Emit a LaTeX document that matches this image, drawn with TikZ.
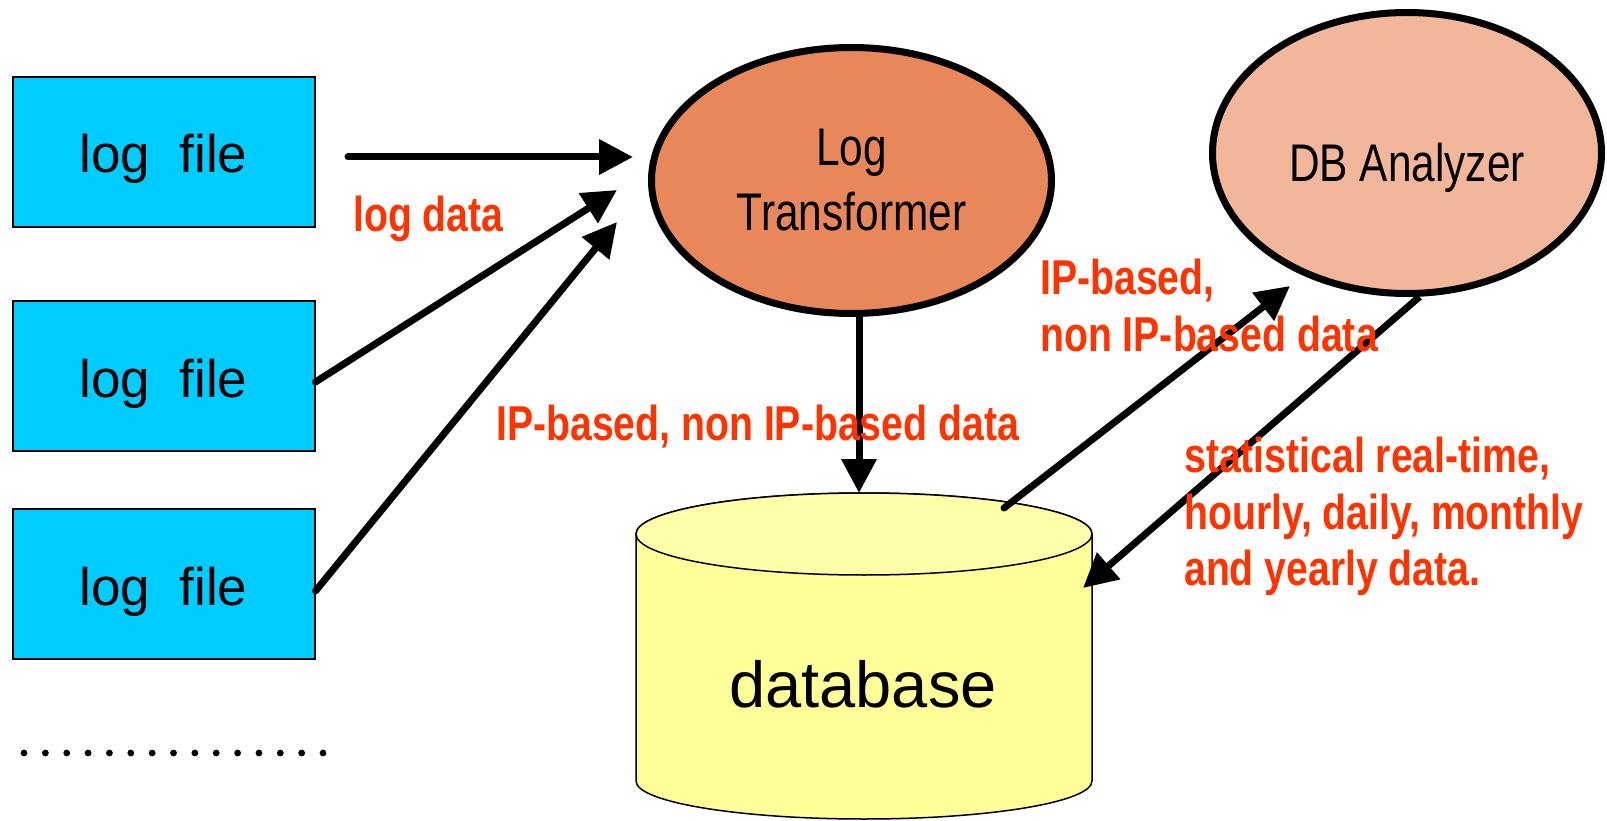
\documentclass[tikz,border=0pt]{standalone}
\usepackage{fontspec}
\setmainfont{Liberation Sans}
\newfontfamily\narrowfont{Liberation Sans}[FakeStretch=0.8]
\usetikzlibrary{arrows.meta,shapes.geometric,calc}

\definecolor{fileblue}{HTML}{00CCFF}
\definecolor{transfill}{HTML}{E8885A}
\definecolor{analyzefill}{HTML}{F2B69B}
\definecolor{dbbody}{HTML}{FFFF99}
\definecolor{dbtopface}{HTML}{FFFFAA}
\definecolor{notered}{HTML}{FF3300}

\tikzset{
  logbox/.style={draw, fill=fileblue, line width=2pt, minimum width=302pt,
    minimum height=150pt, inner sep=0pt, text height=42pt, text depth=0pt,
    font=\fontsize{53}{60}\selectfont},
  process/.style={ellipse, draw, line width=7pt, inner sep=0pt, align=center,
    font=\narrowfont\fontsize{53}{65}\selectfont},
  note/.style={text=notered, inner sep=0pt, align=left,
    font=\narrowfont\bfseries\fontsize{49}{56.5}\selectfont},
  flow/.style={line width=7pt, -{Triangle[length=34pt,width=34pt]}},
  flowround/.style={flow, line cap=round},
}

\begin{document}
\begin{tikzpicture}[x=1pt,y=1pt]
\useasboundingbox (0,0) rectangle (1607,-821);

% log files
\node[logbox] (f1) at (163.5,-152) {log\ \ file};
\node[logbox] (f2) at (163.5,-376) {log\ \ file};
\node[logbox] (f3) at (163.5,-584) {log\ \ file};

% more log files
\foreach \i in {0,...,14}
  \fill (24+21.36*\i,-753) circle[radius=3.4pt];

% processes
\node[process, fill=transfill, minimum width=400pt, minimum height=266pt]
  (lt) at (851.5,-180.5) {Log\\Transformer};
\node[process, fill=analyzefill, minimum width=389pt, minimum height=281pt,
  text height=58pt, text depth=0pt]
  (ana) at (1407,-153) {DB Analyzer};

% database cylinder
\path[draw, line width=1.5pt, fill=dbbody]
  (636,-534) -- (636,-781)
  arc[start angle=180, end angle=360, x radius=228pt, y radius=38pt]
  -- (1092,-534)
  arc[start angle=0, end angle=180, x radius=228pt, y radius=41pt] -- cycle;
\draw[line width=1.5pt, fill=dbtopface] (864,-534) ellipse[x radius=228pt, y radius=41pt];
\node[inner sep=0pt, anchor=base, font=\fontsize{65}{70}\selectfont]
  (db) at (863,-707) {database};

% connector ends
\coordinate (s1) at (348,-157);
\coordinate (t1) at (633,-157);
\coordinate (t2) at (617,-190);
\coordinate (t3) at (617,-222);
\coordinate (dbin) at (859,-493);
\coordinate (dbout) at (1004,-508);
\coordinate (t5) at (1290,-286);
\coordinate (dbside) at (1083,-588);

% flows
\draw[flowround] (s1) -- (t1);
\draw[flowround] ($(f2.east)+(0,-6)$) -- (t2);
\draw[flowround] ($(f3.east)+(0,-7)$) -- (t3);
\draw[flow] (lt.south -| dbin) -- (dbin);
\draw[flowround] (dbout) -- (t5);
\draw[flow] (ana.-85) -- (dbside);

% notes
\node[note, anchor=base west] (n1) at (353,-232) {log data};
\node[note, anchor=base west] (n2) at (496,-440) {IP-based, non IP-based data};
\node[note, anchor=north west] (n3) at (1040,-259) {IP-based,\\non IP-based data};
\node[note, anchor=north west] (n4) at (1184,-437)
  {statistical real-time,\\hourly, daily, monthly\\and yearly data.};
\end{tikzpicture}
\end{document}
